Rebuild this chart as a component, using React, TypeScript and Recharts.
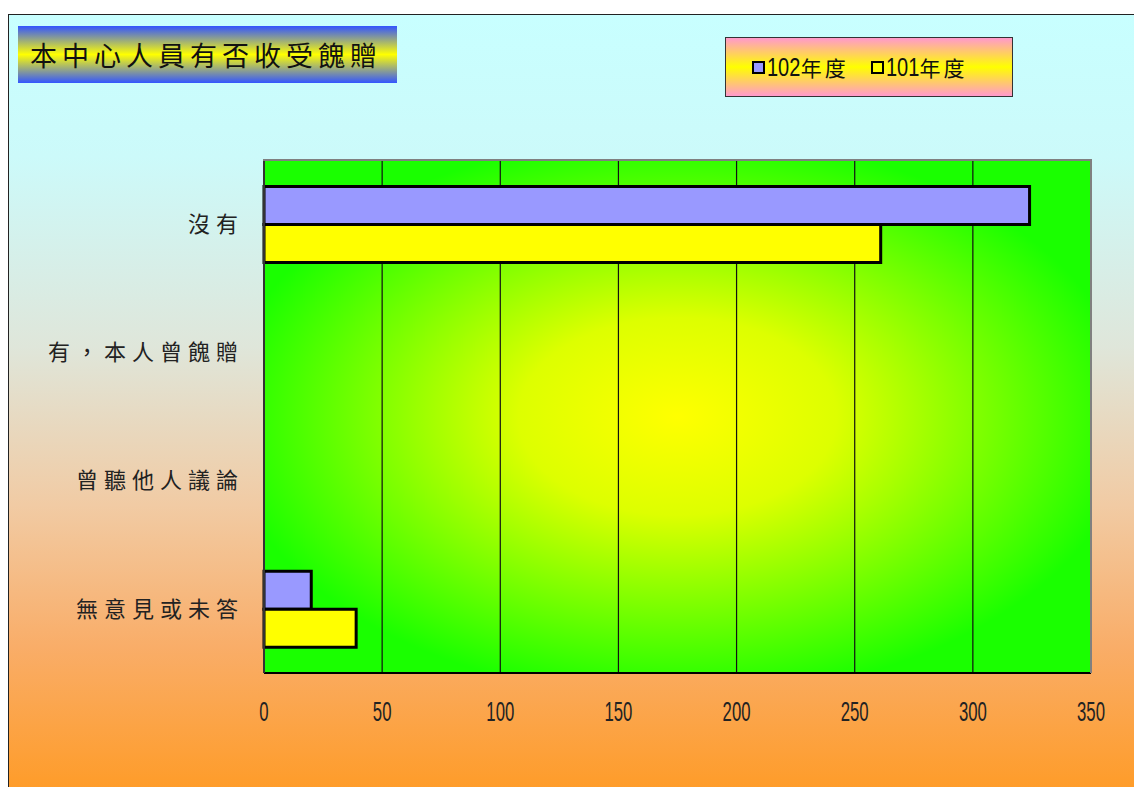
import { BarChart, Bar, XAxis, YAxis, CartesianGrid } from 'recharts';

const categories = ['沒有', '有，本人曾餽贈', '曾聽他人議論', '無意見或未答'];
const year102 = [324, 0, 0, 20];
const year101 = [261, 0, 0, 39];
const xTicks = [0, 50, 100, 150, 200, 250, 300, 350];
const seriesNames = ['102年度', '101年度'];

const data = categories.map((name, i) => ({ name, y102: year102[i], y101: year101[i] }));

const cjk = '"Noto Sans CJK TC", "Noto Sans CJK SC", sans-serif';
const latin = '"Liberation Sans", "DejaVu Sans", sans-serif';

// condensed number ticks, the original uses a narrow face
function NumTick(props: any) {
  const { x, y, payload } = props;
  return (
    <g transform={`translate(${x},${y + 27})`}>
      <text
        textAnchor="middle"
        dy="0.72em"
        transform="scale(0.62,1)"
        fill="#222"
        fontSize={27}
        fontFamily={latin}
      >
        {payload.value}
      </text>
    </g>
  );
}

function LegendBox() {
  const colors = ['#9999ff', '#ffff00'];
  return (
    <div
      style={{
        position: 'absolute',
        left: 725,
        top: 37,
        width: 288,
        height: 60,
        border: '1px solid #333',
        background: 'linear-gradient(to bottom, #ff99cc 0%, #ffff00 50%, #ff99cc 100%)',
        display: 'flex',
        alignItems: 'center',
        paddingLeft: 26,
        boxSizing: 'border-box',
        gap: 22,
      }}
    >
      {seriesNames.map((n, i) => (
        <div key={n} style={{ display: 'flex', alignItems: 'center' }}>
          <span
            style={{
              display: 'inline-block',
              width: 9,
              height: 9,
              border: '2.5px solid #000',
              background: colors[i],
              marginRight: 2,
            }}
          />
          <span style={{ fontFamily: latin, fontSize: 25, color: '#111', display: 'inline-block', transform: 'scaleX(0.8)', transformOrigin: 'left', marginRight: -8 }}>
            {n.slice(0, 3)}
          </span>
          <span style={{ fontFamily: cjk, fontSize: 21, color: '#111', letterSpacing: 3 }}>{n.slice(3)}</span>
        </div>
      ))}
    </div>
  );
}

export default function App() {
  return (
    <div style={{ position: 'absolute', left: 0, top: 0, width: 1134, height: 787, overflow: 'hidden', background: '#fff' }}>
      <div
        style={{
          position: 'absolute',
          left: 8,
          top: 14,
          width: 1140,
          height: 790,
          borderTop: '1.5px solid #222',
          borderLeft: '1.5px solid #222',
          background:
            'linear-gradient(to bottom, #c8ffff 0%, #ccfafa 18%, #dfe6da 42%, #f1cba4 62%, #f9ad68 80%, #ff9a22 100%)',
        }}
      />
      <div
        style={{
          position: 'absolute',
          left: 18,
          top: 26,
          width: 379,
          height: 57,
          background: 'linear-gradient(to bottom, #3355ff 0%, #ffff00 50%, #3355ff 100%)',
          display: 'flex',
          alignItems: 'center',
          paddingLeft: 12,
          boxSizing: 'border-box',
          fontFamily: cjk,
          fontSize: 27,
          letterSpacing: 5,
          color: '#111',
        }}
      >
        本中心人員有否收受餽贈
      </div>
      <LegendBox />
      <div style={{ position: 'absolute', left: 0, top: 0 }}>
        <BarChart
          width={1134}
          height={787}
          data={data}
          layout="vertical"
          margin={{ top: 160, right: 43, bottom: 74, left: 0 }}
          barGap={0}
          barCategoryGap="20.7%"
        >
          <defs>
            <radialGradient id="plotGrad" cx="50%" cy="50%" r="55%">
              <stop offset="0%" stopColor="#ffff00" />
              <stop offset="35%" stopColor="#ddff00" />
              <stop offset="100%" stopColor="#1aff00" />
            </radialGradient>
          </defs>
          <CartesianGrid horizontal={false} stroke="#111" strokeWidth={1.2} fill="url(#plotGrad)" fillOpacity={1} />
          <XAxis
            type="number"
            domain={[0, 350]}
            ticks={xTicks}
            height={40}
            tickSize={0}
            axisLine={{ stroke: '#000', strokeWidth: 2 }}
            tick={<NumTick />}
          />
          <YAxis
            type="category"
            dataKey="name"
            width={264}
            tickSize={0}
            tickMargin={20}
            axisLine={{ stroke: '#333', strokeWidth: 2 }}
            tick={{ fill: '#222', fontSize: 22, fontFamily: cjk, letterSpacing: 6 }}
          />
          <Bar dataKey="y102" name={seriesNames[0]} fill="#9999ff" stroke="#000" strokeWidth={3} isAnimationActive={false} />
          <Bar dataKey="y101" name={seriesNames[1]} fill="#ffff00" stroke="#000" strokeWidth={3} isAnimationActive={false} />
        </BarChart>
      </div>
      {/* grey frame on the top and right of the plot area */}
      <div
        style={{
          position: 'absolute',
          left: 263,
          top: 159,
          width: 829,
          height: 514,
          borderTop: '2px solid #808080',
          borderRight: '2px solid #808080',
          boxSizing: 'border-box',
          pointerEvents: 'none',
        }}
      />
    </div>
  );
}
